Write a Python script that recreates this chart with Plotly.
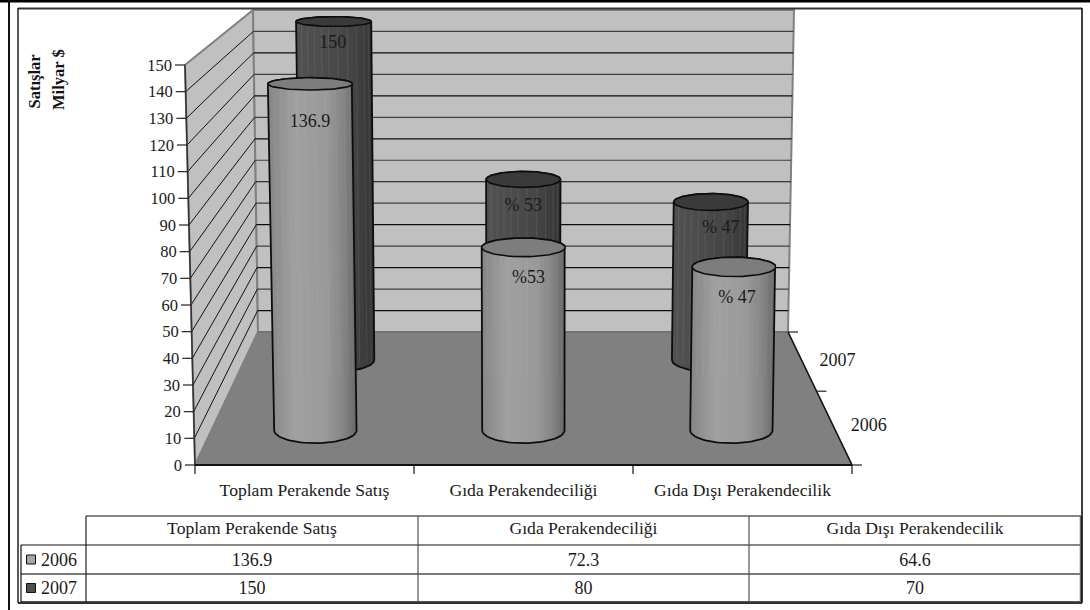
import numpy as np
import plotly.graph_objects as go

# ---------- data ----------
categories = ["Toplam Perakende Satış", "Gıda Perakendeciliği", "Gıda Dışı Perakendecilik"]
series_names = ["2006", "2007"]
values_2006 = [136.9, 72.3, 64.6]
values_2007 = [150, 80, 70]
labels_2006 = ["136.9", "%53", "% 47"]
labels_2007 = ["150", "% 53", "% 47"]
value_ticks = [0, 10, 20, 30, 40, 50, 60, 70, 80, 90, 100, 110, 120, 130, 140, 150]
axis_title = ["Satışlar", "Milyar $"]

# ---------- geometry of the 3D box (pixels of the 1090x610 page) ----------
W, H = 1090, 610
PX0, PX3 = 195.0, 852.0      # front edge: category 0 .. 3
PY0, PYMAX = 465.0, 65.0     # front-left edge: value 0 .. 150
VMAX = 150.0
TEXT_DROP = 1.5              # px, optical correction of text baseline


def X(px):
    return (np.asarray(px, float) - PX0) / (PX3 - PX0) * 3


def Y(py):
    return (PY0 - np.asarray(py, float)) * VMAX / (PY0 - PYMAX)


def project(c, d, v):
    """category position c, depth d (0 front, 1 back), value v -> pixels"""
    t = np.asarray(v, float) / VMAX
    y0 = 465 - 133 * d
    h = 400 - 78 * d
    left = (195 - 10 * t) * (1 - d) + (258 - 5 * t) * d
    right = (852 + 10 * t) * (1 - d) + (788 + 6 * t) * d
    return left + np.asarray(c, float) / 3 * (right - left), y0 - h * t


def P(c, d, v):
    px, py = project(c, d, v)
    return X(px), Y(py)


fig = go.Figure()


def poly(xs, ys, fill=None, line=None, lw=1.0, gradient=None):
    kw = dict(x=xs, y=ys, mode="lines", hoverinfo="skip", showlegend=False)
    kw["line"] = dict(color=line or "rgba(0,0,0,0)", width=lw if line else 0)
    if fill or gradient:
        kw["fill"] = "toself"
    if fill:
        kw["fillcolor"] = fill
    if gradient:
        kw["fillgradient"] = dict(type="horizontal", colorscale=gradient)
    fig.add_trace(go.Scatter(**kw))


def seg(p1, p2, color="#111111", lw=1.0):
    poly([p1[0], p2[0]], [p1[1], p2[1]], line=color, lw=lw)


def pseg(a, b, color="#111111", lw=1.0):
    seg((X(a[0]), Y(a[1])), (X(b[0]), Y(b[1])), color, lw)


def text(xs, ys, txt, size=16, pos="middle center", color="#1a1a1a"):
    dy = TEXT_DROP * VMAX / (PY0 - PYMAX)
    fig.add_trace(go.Scatter(x=xs, y=[float(y) - dy for y in ys], text=txt, mode="text", textposition=pos,
                             textfont=dict(family="Liberation Serif", size=size, color=color),
                             hoverinfo="skip", showlegend=False))


# ---------- walls and floor ----------
corners = lambda pts: ([p[0] for p in pts] + [pts[0][0]], [p[1] for p in pts] + [pts[0][1]])
wall_col, floor_col, edge = "#c0c0c0", "#808080", "#808080"

lw_pts = [P(0, 0, 0), P(0, 0, VMAX), P(0, 1, VMAX), P(0, 1, 0)]
bw_pts = [P(0, 1, 0), P(0, 1, VMAX), P(3, 1, VMAX), P(3, 1, 0)]
fl_pts = [P(0, 0, 0), P(3, 0, 0), P(3, 1, 0), P(0, 1, 0)]
poly(*corners(lw_pts), fill=wall_col, line=edge, lw=2)
poly(*corners(bw_pts), fill=wall_col, line=edge, lw=2)

for v in value_ticks[1:-1]:
    seg(P(0, 0, v), P(0, 1, v), "#111111", 1)
    seg(P(0, 1, v), P(3, 1, v), "#0d0d0d" if v % 20 else "#404040", 1.2)
poly(*corners(fl_pts), fill=floor_col, line=floor_col, lw=1.5)
seg(P(0, 1, 0), P(3, 1, 0), "#6e6e6e", 1.5)

# ---------- axes ----------
seg(P(0, 0, 0), P(0, 0, VMAX), "#333333", 1.5)
seg(P(0, 0, 0), P(3, 0, 0), "#111111", 2)
seg(P(3, 0, 0), P(3, 1, 0), "#111111", 1.5)
tx, ty = [], []
for v in value_ticks:
    px, py = project(0, 0, v)
    pseg((px - 10, py), (px, py), "#222222", 1.2)
    tx.append(X(px - 13))
    ty.append(Y(py))
text(tx, ty, [str(v) for v in value_ticks], 16.5, "middle left")
for c in range(4):
    px, py = project(c, 0, 0)
    pseg((px, py), (px, py + 9), "#111111", 1.2)
for d in (0, 0.555, 1):
    px, py = project(3, d, 0)
    pseg((px, py), (px + 10, py), "#222222", 1.2)

text([c + 0.5 for c in range(3)], [Y(490)] * 3, categories, 17.6)
series_depths = [0.3, 0.79]
for name, d in zip(series_names, series_depths):
    px, py = project(3, d, 0)
    text([X(px + 18)], [Y(py)], [name], 18, "middle right")

# ---------- cylinders ----------
R = 0.198
STRIPES = [-0.86, -0.7, -0.52, -0.33, -0.14, 0.1, 0.36, 0.6, 0.8, 0.92]


def radii(d, v):
    x1, _ = project(0, d, v)
    x2, _ = project(3, d, v)
    rx = R * (x2 - x1) / 3
    return rx, rx * (0.31 - 0.0012 * v)


def cylinder(c, d, v, body, top, outline="#0d0d0d", stripe=None, stripe_from=0):
    cx0, cy0 = project(c, d, 0)
    cx1, cy1 = project(c, d, v)
    rx0, ry0 = radii(d, 0)
    rx1, ry1 = radii(d, v)
    t = np.linspace(0, np.pi, 40)
    bx = cx0 - rx0 * np.cos(t)
    by = cy0 + ry0 * np.sin(t)
    ux = cx1 + rx1 * np.cos(t)
    uy = cy1 - ry1 * np.sin(t)
    poly(X(np.r_[bx, ux, bx[0]]), Y(np.r_[by, uy, by[0]]), gradient=body, line=outline, lw=1.8)
    # faint facets of the cylinder wall
    sx0, sy0 = project(c, d, stripe_from)
    rs, _ = radii(d, stripe_from)
    for s in STRIPES:
        seg((X(sx0 + rs * s), Y(sy0 + ry0 * 0.3)),
            (X(cx1 + rx1 * s), Y(cy1)), stripe, 1)
    a = np.linspace(0, 2 * np.pi, 80)
    poly(X(cx1 + rx1 * np.cos(a)), Y(cy1 + ry1 * np.sin(a)), fill=top, line=outline, lw=1.6)


body_back = [[0, "#525252"], [0.35, "#4c4c4c"], [0.7, "#454545"], [1, "#363636"]]
body_front = [[0, "#858585"], [0.3, "#a0a0a0"], [0.65, "#9a9a9a"], [0.85, "#858585"], [1, "#686868"]]
DEPTH_2006, DEPTH_2007 = 0.26, 0.79

for c, v in enumerate(values_2007):
    cylinder(c + 0.5, DEPTH_2007, v, body_back, "#3a3a3a", stripe="rgba(255,255,255,0.08)")
for c, v in enumerate(values_2006):
    cylinder(c + 0.5, DEPTH_2006, v, body_front, "#7d7d7d", stripe="rgba(255,255,255,0.06)", stripe_from=23)

# value labels written on the cylinders
off_2007 = [(-1, 20), (0, 26), (10, 25)]
off_2006 = [(0, 37), (5, 30), (3, 30)]
for vals, labs, offs, d in ((values_2007, labels_2007, off_2007, DEPTH_2007),
                            (values_2006, labels_2006, off_2006, DEPTH_2006)):
    for c, (v, lab, (ox, oy)) in enumerate(zip(vals, labs, offs)):
        px, py = project(c + 0.5, d, v)
        text([X(px + ox)], [Y(py + oy)], [lab], 18)

# ---------- data table ----------
COLS = [86, 418, 749, 1081]
ROWS = [516, 545, 574, 602]
KEY_L = 21
pseg((COLS[0], ROWS[0]), (COLS[3], ROWS[0]), "#111111", 1.2)
pseg((KEY_L, ROWS[1]), (COLS[3], ROWS[1]), "#111111", 1.2)
pseg((KEY_L, ROWS[2]), (COLS[3], ROWS[2]), "#7a7a7a", 2)
pseg((KEY_L, ROWS[3]), (COLS[3], ROWS[3]), "#555555", 2)
pseg((KEY_L, ROWS[1]), (KEY_L, ROWS[3]), "#111111", 1.2)
pseg((COLS[0], ROWS[0]), (COLS[0], ROWS[3]), "#222222", 1.2)
pseg((COLS[1], ROWS[0]), (COLS[1], ROWS[3]), "#555555", 1.2)
pseg((COLS[2], ROWS[0]), (COLS[2], ROWS[3]), "#555555", 1.2)
pseg((COLS[3], ROWS[0]), (COLS[3], ROWS[3]), "#6a6a6a", 2.5)

col_mid = [(COLS[i] + COLS[i + 1]) / 2 for i in range(3)]
row_mid = [(ROWS[i] + ROWS[i + 1]) / 2 for i in range(3)]
text(X(col_mid), [Y(row_mid[0] - 2.5)] * 3, categories, 17.6)
text(X(col_mid), [Y(row_mid[1])] * 3, [str(v) for v in values_2006], 18)
text(X(col_mid), [Y(row_mid[2])] * 3, [str(v) for v in values_2007], 18)
text([X(41)] * 2, [Y(row_mid[1]), Y(row_mid[2])], series_names, 18, "middle right")
for i, col in enumerate(["#a6a6a6", "#4f4f4f"]):
    fig.add_trace(go.Scatter(x=[X(31)], y=[Y(row_mid[i + 1])], mode="markers", name=series_names[i],
                             marker=dict(symbol="square", size=9, color=col, line=dict(color="#111111", width=1)),
                             hoverinfo="skip", showlegend=False))

# ---------- frames ----------
def frame(x0, y0, x1, y1, color, w):
    return dict(type="line", xref="paper", yref="paper", x0=x0 / W, x1=x1 / W, y0=1 - y0 / H, y1=1 - y1 / H,
                line=dict(color=color, width=w))


shapes = [
    frame(0, 1, W, 1, "#000000", 3),
    frame(9, 0, 9, H, "#111111", 2),
    frame(18, 8.5, 1082, 8.5, "#333333", 2),
    frame(1082, 8, 1082, 603, "#000000", 1.5),
    frame(18, 603, 1082, 603, "#333333", 2),
    frame(18, 8, 18, 603, "#222222", 1.5),
]

annotations = [
    dict(text=f"<b>{axis_title[0]}</b>", x=33.5 / W, y=1 - 82 / H, xref="paper", yref="paper", showarrow=False,
         xanchor="center", yanchor="middle", textangle=-90,
         font=dict(family="Liberation Serif", size=16.5, color="#111111")),
    dict(text=f"<b>{axis_title[1]}</b>", x=58 / W, y=1 - 80 / H, xref="paper", yref="paper", showarrow=False,
         xanchor="center", yanchor="middle", textangle=-90,
         font=dict(family="Liberation Serif", size=16.5, color="#111111")),
]

fig.update_layout(
    width=W, height=H, margin=dict(l=0, r=0, t=0, b=0),
    paper_bgcolor="white", plot_bgcolor="white", showlegend=False,
    xaxis=dict(visible=False, range=[float(X(0)), float(X(W))], fixedrange=True),
    yaxis=dict(visible=False, range=[float(Y(H)), float(Y(0))], fixedrange=True),
    shapes=shapes, annotations=annotations,
)

fig.write_html("out.html", config={"displayModeBar": False},
               post_script="document.body.style.margin='0';document.body.style.overflow='hidden';")
